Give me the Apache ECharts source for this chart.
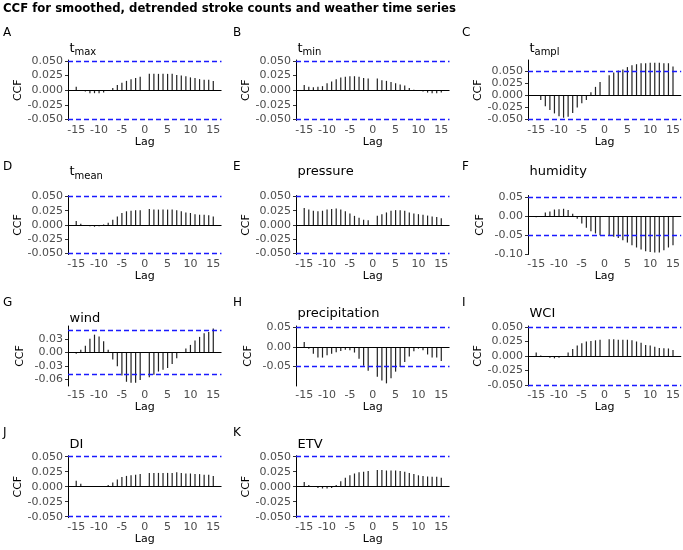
<!DOCTYPE html>
<html>
<head>
<meta charset="utf-8">
<script src="https://cdn.jsdelivr.net/npm/echarts@6/dist/echarts.min.js"></script>
<style>
  html, body { margin: 0; padding: 0; background: #fff; }
  #chart { width: 683px; height: 550px; }
</style>
</head>
<body>
<div id="chart"></div>
<script>
// lags -15..15, lag 0 has no bar in the source figure
const lags = [-15, -14, -13, -12, -11, -10, -9, -8, -7, -6, -5, -4, -3, -2, -1, 0,
  1, 2, 3, 4, 5, 6, 7, 8, 9, 10, 11, 12, 13, 14, 15];

const tmax = [0.006, 0, -0.002, -0.005, -0.005, -0.005, -0.004, 0, 0.004, 0.009, 0.013, 0.016, 0.019, 0.021, 0.023, null,
  0.028, 0.028, 0.028, 0.028, 0.028, 0.028, 0.026, 0.025, 0.024, 0.022, 0.021, 0.019, 0.018, 0.018, 0.016];
const tmin = [0.009, 0.006, 0.005, 0.006, 0.007, 0.012, 0.015, 0.019, 0.022, 0.023, 0.024, 0.024, 0.023, 0.021, 0.020, null,
  0.020, 0.017, 0.016, 0.014, 0.012, 0.010, 0.008, 0.004, 0.001, 0, -0.002, -0.004, -0.005, -0.005, -0.004];
const tampl = [-0.002, -0.010, -0.023, -0.031, -0.038, -0.044, -0.047, -0.045, -0.037, -0.026, -0.017, -0.010, 0.006, 0.017, 0.027, null,
  0.041, 0.047, 0.051, 0.053, 0.058, 0.062, 0.064, 0.066, 0.066, 0.067, 0.067, 0.067, 0.066, 0.066, 0.059];
const tmean = [0.007, 0.002, -0.001, -0.002, -0.003, -0.002, 0.001, 0.004, 0.009, 0.015, 0.021, 0.024, 0.025, 0.026, 0.026, null,
  0.028, 0.027, 0.027, 0.027, 0.027, 0.027, 0.026, 0.024, 0.022, 0.021, 0.019, 0.018, 0.018, 0.017, 0.015];
const pressure = [0.030, 0.027, 0.025, 0.024, 0.025, 0.027, 0.028, 0.029, 0.027, 0.024, 0.020, 0.016, 0.0125, 0.009, 0.0085, null,
  0.016, 0.019, 0.022, 0.025, 0.026, 0.026, 0.025, 0.022, 0.020, 0.019, 0.018, 0.0165, 0.015, 0.014, 0.012];
const humidity = [-0.003, 0, 0.009, 0.012, 0.017, 0.018, 0.019, 0.016, 0.006, -0.007, -0.020, -0.031, -0.040, -0.046, -0.051, null,
  -0.053, -0.055, -0.058, -0.064, -0.070, -0.077, -0.083, -0.088, -0.093, -0.095, -0.096, -0.096, -0.090, -0.083, -0.077];
const wind = [-0.003, 0.006, 0.015, 0.031, 0.040, 0.036, 0.025, 0.006, -0.016, -0.031, -0.052, -0.066, -0.068, -0.068, -0.062, null,
  -0.056, -0.050, -0.043, -0.039, -0.035, -0.026, -0.013, 0.001, 0.009, 0.017, 0.027, 0.035, 0.043, 0.046, 0.054];
const precipitation = [0.013, -0.004, -0.017, -0.027, -0.027, -0.021, -0.017, -0.013, -0.010, -0.007, -0.008, -0.014, -0.030, -0.048, -0.061, null,
  -0.076, -0.086, -0.093, -0.080, -0.063, -0.051, -0.038, -0.024, -0.011, -0.004, -0.008, -0.019, -0.027, -0.027, -0.036];
const wci = [0.006, 0.001, -0.001, -0.003, -0.004, -0.003, -0.001, 0.006, 0.012, 0.018, 0.022, 0.025, 0.026, 0.027, 0.028, null,
  0.029, 0.029, 0.028, 0.028, 0.028, 0.027, 0.025, 0.023, 0.019, 0.018, 0.016, 0.014, 0.0135, 0.013, 0.0105];
const di = [0.010, 0.005, 0.001, 0.0005, -0.0005, 0, 0.001, 0.003, 0.007, 0.012, 0.016, 0.018, 0.019, 0.020, 0.021, null,
  0.023, 0.023, 0.023, 0.023, 0.023, 0.023, 0.024, 0.023, 0.022, 0.022, 0.021, 0.021, 0.020, 0.020, 0.018];
const etv = [0.008, 0.003, -0.0005, -0.002, -0.003, -0.003, -0.002, 0.003, 0.009, 0.015, 0.019, 0.022, 0.024, 0.025, 0.026, null,
  0.028, 0.028, 0.027, 0.027, 0.027, 0.026, 0.025, 0.023, 0.021, 0.019, 0.018, 0.017, 0.0165, 0.0165, 0.015];

// 95% confidence bound drawn as dashed lines
const ciBound = 0.047;

const lagTicks = [-15, -10, -5, 0, 5, 10, 15];
const ticks050 = [-0.050, -0.025, 0, 0.025, 0.050];
const ticks005 = [-0.10, -0.05, 0, 0.05];
const ticksPrecip = [-0.05, 0, 0.05];
const ticksWind = [-0.06, -0.03, 0, 0.03];

const panels = [
  { tag: 'A', name: 't', sub: 'max', values: tmax, ticks: ticks050, dec: 3, min: -0.0517, max: 0.0517 },
  { tag: 'B', name: 't', sub: 'min', values: tmin, ticks: ticks050, dec: 3, min: -0.0517, max: 0.0517 },
  { tag: 'C', name: 't', sub: 'ampl', values: tampl, ticks: ticks050, dec: 3, min: -0.0527, max: 0.0727 },
  { tag: 'D', name: 't', sub: 'mean', values: tmean, ticks: ticks050, dec: 3, min: -0.0517, max: 0.0517 },
  { tag: 'E', name: 'pressure', values: pressure, ticks: ticks050, dec: 3, min: -0.0517, max: 0.0517 },
  { tag: 'F', name: 'humidity', values: humidity, ticks: ticks005, dec: 2, min: -0.1015, max: 0.054 },
  { tag: 'G', name: 'wind', values: wind, ticks: ticksWind, dec: 2, min: -0.0755, max: 0.0595, titleDy: 3 },
  { tag: 'H', name: 'precipitation', values: precipitation, ticks: ticksPrecip, dec: 2, min: -0.0998, max: 0.054, titleDy: -2 },
  { tag: 'I', name: 'WCI', values: wci, ticks: ticks050, dec: 3, min: -0.0517, max: 0.0517, titleDy: -2 },
  { tag: 'J', name: 'DI', values: di, ticks: ticks050, dec: 3, min: -0.0517, max: 0.0517 },
  { tag: 'K', name: 'ETV', values: etv, ticks: ticks050, dec: 3, min: -0.0517, max: 0.0517 }
];

// layout in pixels
const colLeft = [68, 296, 528];
const colTag = [3, 233, 462];
const plotWidth = 153.5;
const rowTop = [60, 195.5, 326, 455.7];
const rowBottom = [120.5, 254.5, 386, 517.7];
const rowTagY = [34, 168, 303.5, 434];
const rowTitleY = [48.5, 172, 316, 444.5];

const FONT = 'DejaVu Sans';
const chart = echarts.init(document.getElementById('chart'), null, { renderer: 'canvas' });

const grid = [];
const xAxis = [];
const yAxis = [];
const series = [];
const graphic = [];

graphic.push({
  type: 'text', left: 3, top: 3,
  style: { text: 'CCF for smoothed, detrended stroke counts and weather time series', font: `bold 11.7px "${FONT}"`, fill: '#000' }
});

panels.forEach((p, i) => {
  const row = Math.floor(i / 3);
  const col = i % 3;
  const left = colLeft[col];
  const top = rowTop[row];
  const height = rowBottom[row] - rowTop[row];

  grid.push({ left, top, width: plotWidth, height });

  xAxis.push({
    gridIndex: i,
    type: 'value',
    min: -16.8,
    max: 16.8,
    name: 'Lag',
    nameLocation: 'middle',
    nameGap: 16,
    nameTextStyle: { fontFamily: FONT, fontSize: 11, color: '#000', verticalAlign: 'top' },
    axisLine: { show: false },
    axisTick: { show: false },
    splitLine: { show: false },
    axisLabel: {
      customValues: lagTicks,
      fontFamily: FONT,
      fontSize: 11,
      color: '#4d4d4d',
      margin: 4,
      formatter: (v) => String(v)
    }
  });

  yAxis.push({
    gridIndex: i,
    type: 'value',
    min: p.min,
    max: p.max,
    name: 'CCF',
    nameLocation: 'middle',
    nameGap: 42,
    nameTextStyle: { fontFamily: FONT, fontSize: 11, color: '#000' },
    axisLine: { show: true, onZero: false, lineStyle: { color: '#000', width: 1 } },
    axisTick: { show: true, customValues: p.ticks, length: 3, lineStyle: { color: '#333' } },
    splitLine: { show: false },
    axisLabel: {
      customValues: p.ticks,
      fontFamily: FONT,
      fontSize: 11,
      color: '#4d4d4d',
      margin: 5,
      formatter: (v) => v.toFixed(p.dec)
    }
  });

  // CCF bars with the dashed confidence bounds
  series.push({
    type: 'bar',
    xAxisIndex: i,
    yAxisIndex: i,
    barWidth: 1.2,
    itemStyle: { color: '#222' },
    data: lags.map((lag, k) => [lag, p.values[k]]).filter((d) => d[1] !== null),
    animation: false,
    markLine: {
      silent: true,
      symbol: ['none', 'none'],
      label: { show: false },
      animation: false,
      lineStyle: { color: '#1a1aff', width: 1.3, type: [5, 3], opacity: 1 },
      emphasis: { disabled: true },
      data: [{ yAxis: ciBound }, { yAxis: -ciBound }]
    }
  });

  // zero reference line
  series.push({
    type: 'line',
    xAxisIndex: i,
    yAxisIndex: i,
    data: [],
    animation: false,
    markLine: {
      silent: true,
      symbol: ['none', 'none'],
      label: { show: false },
      animation: false,
      lineStyle: { color: '#000', width: 1.2, type: 'solid' },
      data: [{ yAxis: 0 }]
    }
  });

  graphic.push({
    type: 'text', left: colTag[col], top: rowTagY[row] - 7,
    style: { text: p.tag, font: `12px "${FONT}"`, fill: '#000' }
  });

  const titleX = left + 1.5;
  const titleY = rowTitleY[row] + (p.titleDy || 0);
  if (p.sub) {
    graphic.push({
      type: 'text', x: titleX, y: titleY,
      style: { text: p.name, font: `13px "${FONT}"`, fill: '#000', verticalAlign: 'middle' }
    });
    graphic.push({
      type: 'text', x: titleX + 5, y: titleY + 4,
      style: { text: p.sub, font: `10px "${FONT}"`, fill: '#000', verticalAlign: 'middle' }
    });
  } else {
    graphic.push({
      type: 'text', x: titleX, y: titleY,
      style: { text: p.name, font: `13px "${FONT}"`, fill: '#000', verticalAlign: 'middle' }
    });
  }
});

chart.setOption({
  backgroundColor: '#fff',
  animation: false,
  grid,
  xAxis,
  yAxis,
  series,
  graphic
});
</script>
</body>
</html>
